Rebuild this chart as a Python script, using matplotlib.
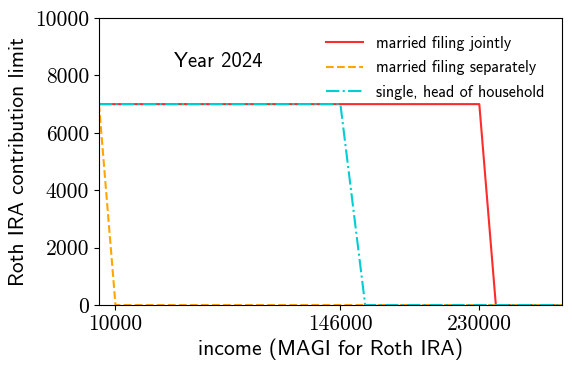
import matplotlib.pyplot as plt
import numpy as np

# Roth IRA limits, 2024
income_joint = [0, 230000, 240000, 280000]
limit_joint = [7000, 7000, 0, 0]
income_sep = [0, 10000, 280000]
limit_sep = [7000, 0, 0]
income_single = [0, 146000, 161000, 280000]
limit_single = [7000, 7000, 0, 0]
xticks = [10000, 146000, 230000]
yticks = [0, 2000, 4000, 6000, 8000, 10000]

plt.rcParams['axes.formatter.use_mathtext'] = True

fig, ax = plt.subplots(figsize=(5.72, 3.72), dpi=100)
fig.subplots_adjust(left=0.173, right=0.9825, top=0.9516, bottom=0.18)

ax.plot(income_joint, limit_joint, color="#ff2020", lw=1.5, alpha=0.95,
        label="married filing jointly")
ax.plot(income_sep, limit_sep, color="orange", ls="--", lw=1.5,
        label="married filing separately")
ax.plot(income_single, limit_single, color="darkturquoise", ls="-.", lw=1.5,
        label="single, head of household")

ax.set_xlim(0, 280000)
ax.set_ylim(0, 10000)
ax.set_xticks(xticks)
ax.set_yticks(yticks)
ax.set_xticklabels([str(v) for v in xticks], fontfamily="cmr10", fontsize=15.5)
ax.set_yticklabels([str(v) for v in yticks], fontfamily="cmr10", fontsize=15.5)

ax.set_xlabel("income (MAGI for Roth IRA)", fontfamily="cmss10", fontsize=15.5,
              labelpad=3)
ax.set_ylabel("Roth IRA contribution limit", fontfamily="cmss10", fontsize=15.5,
              labelpad=5)

ax.text(72000, 8500, "Year 2024", ha="center", va="center",
        fontfamily="cmss10", fontsize=15)

ax.legend(loc="upper right", frameon=False, prop={"family": "cmss10", "size": 11.6},
          labelspacing=0.6, handlelength=2.3, handletextpad=0.8,
          borderaxespad=0.7)

plt.savefig("out.png")
